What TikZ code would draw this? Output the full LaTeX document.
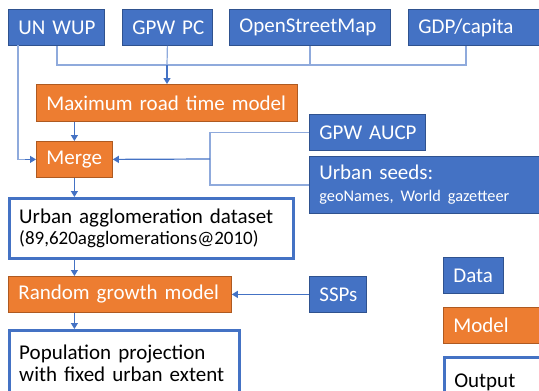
\documentclass[tikz,border=0pt]{standalone}
\usepackage{fontspec}
\setmainfont{Carlito}
\usetikzlibrary{arrows.meta,calc}
\definecolor{dblue}{HTML}{4472C4}
\definecolor{dbord}{HTML}{2F528F}
\definecolor{orng}{HTML}{ED7D31}
\definecolor{obord}{HTML}{AE5A21}
\definecolor{lline}{HTML}{8FAADC}
\begin{document}
\begin{tikzpicture}[x=1pt,y=-1pt,
  box/.style={anchor=north west,inner xsep=10pt,inner ysep=0pt,align=left,
    font=\fontsize{21}{24}\selectfont,line width=0.8pt},
  databox/.style={box,fill=dblue,draw=dbord,text=white},
  modelbox/.style={box,fill=orng,draw=obord,text=white},
  outbox/.style={box,fill=white,draw=dblue,line width=2.5pt,text=black},
  lightline/.style={draw=lline,line width=1.2pt},
  arr/.style={draw=dblue,line width=1.2pt,-{Triangle[width=7pt,length=6pt]}}]
\useasboundingbox (0,0) rectangle (539,391);
% data row
\node[databox,text width=76pt,minimum height=36pt] (unwup) at (8,9) {\mbox{UN WUP}};
\node[databox,text width=70pt,minimum height=36pt] (gpwpc) at (122,9) {\mbox{GPW PC}};
\node[databox,text width=141pt,minimum height=36pt] (osm) at (229,9) {\mbox{OpenStreetMap}};
\node[databox,text width=112pt,minimum height=36pt] (gdp) at (408,9) {\mbox{GDP/capita}};
% models
\node[modelbox,text width=241pt,minimum height=37pt] (mrt) at (36,84) {\mbox{Maximum road time model}};
\node[modelbox,text width=56pt,minimum height=36pt] (merge) at (36,141) {\mbox{Merge}};
\node[databox,text width=96pt,minimum height=36pt] (aucp) at (309,114) {\mbox{GPW AUCP}};
\node[databox,text width=212pt,minimum height=57pt] (seeds) at (309,156)
  {\mbox{Urban seeds:}\\[-2pt]{\fontsize{16.3}{18}\selectfont\mbox{geoNames, World gazetteer}}};
\node[outbox,text width=264pt,minimum height=60pt] (uad) at (8,197)
  {\mbox{Urban agglomeration dataset}\\[-3pt]{\fontsize{19}{21}\selectfont\mbox{(89,620agglomerations@2010)}}};
\node[modelbox,text width=203pt,minimum height=36pt] (rgm) at (8,276) {\mbox{Random growth model}};
\node[databox,text width=37pt,minimum height=36pt] (ssp) at (309,276) {\mbox{SSPs}};
\node[outbox,text width=210pt,minimum height=66pt] (pop) at (8,329)
  {\mbox{Population projection}\\[-2pt]\mbox{with fixed urban extent}};
% legend
\node[databox,text width=40pt,minimum height=36pt] (ldata) at (443,257) {\mbox{Data}};
\node[modelbox,text width=77pt,minimum height=36pt] (lmodel) at (443,307) {\mbox{Model}};
\node[outbox,text width=77pt,minimum height=50pt] (lout) at (443,356) {\raisebox{4pt}{Output}};
% connectors
\coordinate (busl) at (57,65);
\coordinate (busr) at (466,65);
\coordinate (busm) at (167,65);
\draw[lightline] (busl |- unwup.south) -- (busl) -- (busr) -- (busr |- gdp.south);
\draw[lightline] (osm.south) -- (osm.south |- busl);
\draw[lightline] (gpwpc.south) -- (busm);
\draw[arr] (busm) -- (busm |- mrt.north);
\coordinate (leftl) at (18,45);
\draw[lightline] (leftl) -- (leftl |- merge.west) -- ($(merge.west)+(-10,0)$);
\draw[arr] ($(merge.west)+(-11,0)$) -- (merge.west);
\draw[arr] (merge.north |- mrt.south) -- (merge.north);
\coordinate (jr) at (210,159);
\draw[lightline] (aucp.west) -| (jr) |- (seeds.west);
\draw[arr] (jr) -- (merge.east);
\draw[arr] (merge.south) -- (merge.south |- uad.north);
\draw[arr] (merge.south |- uad.south) -- (merge.south |- rgm.north);
\draw[arr] (ssp.west) -- (rgm.east);
\draw[arr] (merge.south |- rgm.south) -- (merge.south |- pop.north);
\end{tikzpicture}
\end{document}
